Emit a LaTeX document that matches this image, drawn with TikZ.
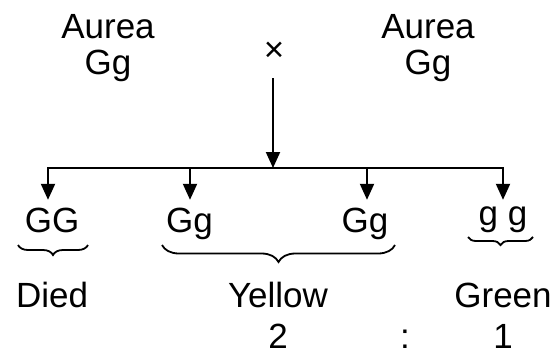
\documentclass[tikz,border=0pt]{standalone}
\usepackage{fontspec}
\setmainfont{Liberation Sans}
\usetikzlibrary{arrows.meta,decorations.pathreplacing}

\tikzset{
	lbl/.style={font=\fontsize{35}{36}\selectfont, text height=26pt, text depth=8pt, inner sep=0pt},
	geno/.style={lbl, inner ysep=6pt},
	ratio/.style={lbl, text depth=0pt},
	arr/.style={-{Triangle[length=16pt,width=14pt]}, line width=2pt},
	brc/.style={decorate, decoration={brace, mirror, amplitude=#1}, line width=1.8pt},
}

\begin{document}
\begin{tikzpicture}[x=1pt, y=-1pt, node distance=36pt]
	\useasboundingbox (0,0) rectangle (556,356);
	% parents
	\node[lbl] (PL) at (108,29) {Aurea};
	\node[lbl] (PLg) [below of=PL] {Gg};
	\node[lbl] (PR) at (428,29) {Aurea};
	\node[lbl] (PRg) [below of=PR] {Gg};
	\node[lbl] (cross) at (274,52) {×};
	% offspring
	\node[geno] (GG) at (52,223) {GG};
	\node[geno] (Gg1) at (189.5,223) {Gg};
	\node[geno] (Gg2) at (365,223) {Gg};
	\node[geno] (gg) at (503,223) {\raisebox{7pt}{g g}};
	\coordinate (stem) at (273,78);
	\coordinate (j0) at (273,168);
	\coordinate (j1) at (48,168);
	\coordinate (j2) at (190,168);
	\coordinate (j3) at (367,168);
	\coordinate (j4) at (503,168);
	\draw[arr] (stem) -- (j0);
	\draw[line width=2pt, line cap=rect] (j1) -- (j4);
	\draw[arr] (j1) -- (j1 |- GG.north);
	\draw[arr] (j2) -- (j2 |- Gg1.north);
	\draw[arr] (j3) -- (j3 |- Gg2.north);
	\draw[arr] (j4) -- (j4 |- gg.north);
	% braces
	\draw[brc=10pt] (18,245) -- (88,245);
	\draw[brc=17pt] (162,245) -- (395,245);
	\draw[brc=8pt] (468,237) -- (533,237);
	% phenotypes and ratio
	\node[lbl] (died) [below of=GG, node distance=75pt] {Died};
	\node[lbl] (yellow) at (278,298) {Yellow};
	\node[lbl] (green) [below of=gg, node distance=75pt] {Green};
	\node[ratio] (two) [below of=yellow, node distance=37pt] {2};
	\node[ratio] (colon) at (405,335) {:};
	\node[ratio] (one) [below of=green, node distance=37pt] {1};
\end{tikzpicture}
\end{document}
